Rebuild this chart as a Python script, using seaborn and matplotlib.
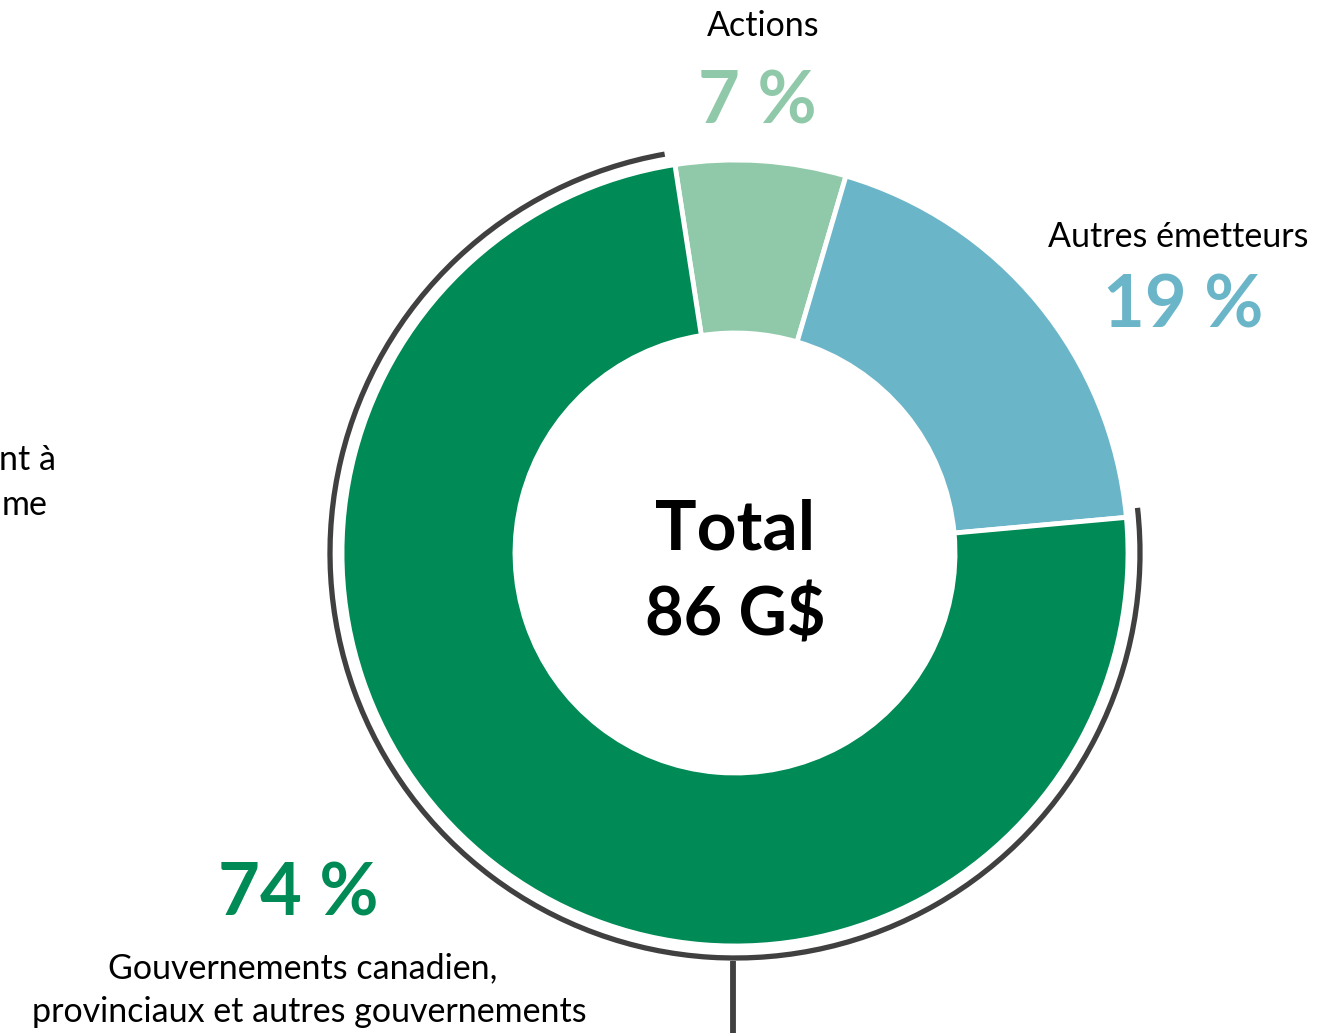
import matplotlib
matplotlib.use("Agg")
import matplotlib.pyplot as plt
from matplotlib.patches import Arc
import seaborn as sns

# Data
categories = ["Actions", "Autres émetteurs", "Gouvernements canadien,\nprovinciaux et autres gouvernements"]
shares = [7, 19, 74]
pct_labels = ["7 %", "19 %", "74 %"]
total_label = ["Total", "86 G$"]
edge_label = ["nt à", "me"]  # visible part of a neighbouring panel's label
colors = ["#8FC9A9", "#6BB5C8", "#008A55"]

sns.set_theme(style="white")
plt.rcParams['font.family'] = ['Lato', 'DejaVu Sans']

W, H = 1342, 1033
fig = plt.figure(figsize=(W / 100, H / 100), dpi=100)
ax = fig.add_axes([0, 0, 1, 1])

cx, cy = 735, H - 553
R = 393
ax.pie(shares, colors=colors, startangle=98.8, counterclock=False,
       center=(cx, cy), radius=R, frame=True,
       wedgeprops=dict(width=R - 220, edgecolor="white", linewidth=3.5))
ax.set_xlim(0, W)
ax.set_ylim(0, H)
ax.set_aspect("equal")
ax.axis("off")

# outer bracket arc around the government slice
arc = Arc((cx, cy), 2 * 405, 2 * 405, theta1=100, theta2=366.4,
          color="#404040", linewidth=3.8, capstyle="butt")
ax.add_patch(arc)
ax.plot([733, 733], [H - 961, -5], color="#404040", linewidth=4.2, solid_capstyle="butt")

# center total
ax.text(cx, H - 530, total_label[0], ha="center", va="center", fontsize=50, fontweight="bold", color="black")
ax.text(cx, H - 617, total_label[1], ha="center", va="center", fontsize=48, fontweight="bold", color="black")

small = 24.5
big = 52
# labels
ax.text(763, H - 26, categories[0], ha="center", va="center", fontsize=small, color="black")
ax.text(757, H - 103, pct_labels[0], ha="center", va="center", fontsize=big, fontweight="bold", color=colors[0])

ax.text(1178, H - 237, categories[1], ha="center", va="center", fontsize=small, color="black")
ax.text(1183, H - 307, pct_labels[1], ha="center", va="center", fontsize=big, fontweight="bold", color=colors[1])

ax.text(298, H - 895, pct_labels[2], ha="center", va="center", fontsize=big, fontweight="bold", color=colors[2])
line1, line2 = categories[2].split("\n")
ax.text(303, H - 968, line1, ha="center", va="center", fontsize=small, color="black")
ax.text(309, H - 1012, line2, ha="center", va="center", fontsize=small, color="black")

# partially visible label from a neighbouring panel
ax.text(56, H - 460, edge_label[0], ha="right", va="center", fontsize=small, color="black")
ax.text(2, H - 505, edge_label[1], ha="left", va="center", fontsize=small, color="black")

fig.savefig("out.png", dpi=100)
